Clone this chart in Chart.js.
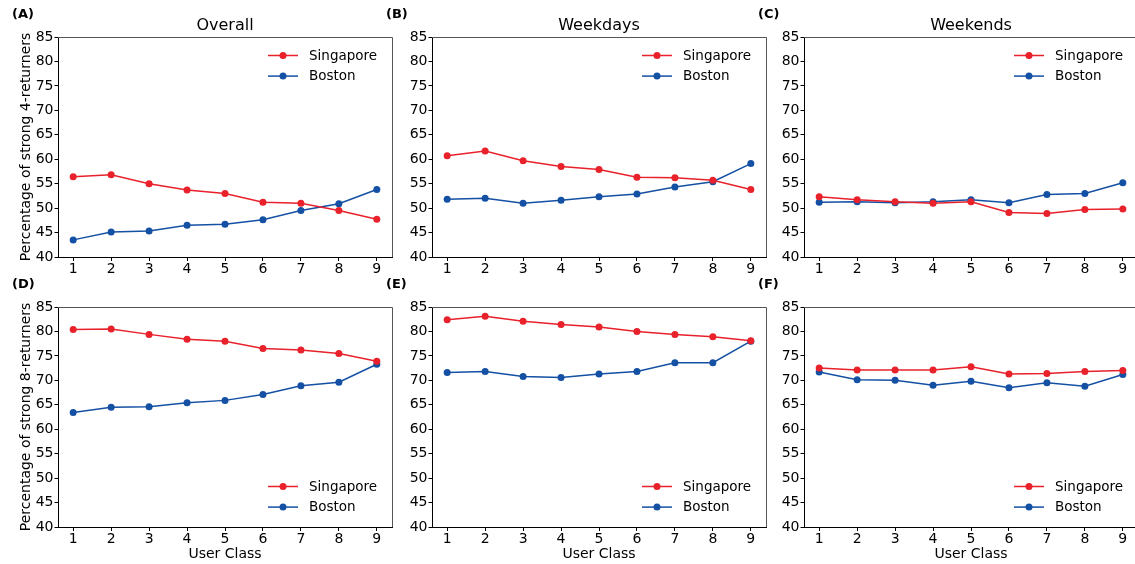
<!DOCTYPE html>
<html>
<head>
<meta charset="utf-8">
<script src="https://cdn.jsdelivr.net/npm/chart.js@4"></script>
<style>
html, body { margin:0; padding:0; background:#fff; overflow:hidden; }
body { width:1135px; height:564px; position:relative; }
canvas { position:absolute; }
</style>
</head>
<body>
<canvas id="pA" width="398" height="293" style="left:0px;top:0px"></canvas>
<canvas id="pB" width="398" height="293" style="left:374px;top:0px"></canvas>
<canvas id="pC" width="398" height="293" style="left:746px;top:0px"></canvas>
<canvas id="pD" width="398" height="293" style="left:0px;top:270px"></canvas>
<canvas id="pE" width="398" height="293" style="left:374px;top:270px"></canvas>
<canvas id="pF" width="398" height="293" style="left:746px;top:270px"></canvas>
<script>
// user classes on the x axis
const userClasses = [1,2,3,4,5,6,7,8,9];
const cities = ["Singapore", "Boston"];

// strong 4-returners (%)
const sgOverall4  = [56.4, 56.8, 55.0, 53.7, 53.0, 51.2, 51.0, 49.5, 47.7];
const bosOverall4 = [43.5, 45.1, 45.3, 46.5, 46.7, 47.6, 49.5, 50.9, 53.8];
const sgWeekdays4  = [60.7, 61.7, 59.7, 58.5, 57.9, 56.3, 56.2, 55.7, 53.8];
const bosWeekdays4 = [51.8, 52.0, 51.0, 51.6, 52.3, 52.9, 54.3, 55.4, 59.1];
const sgWeekends4  = [52.3, 51.7, 51.3, 51.0, 51.3, 49.1, 48.9, 49.7, 49.8];
const bosWeekends4 = [51.2, 51.3, 51.1, 51.3, 51.7, 51.1, 52.8, 53.0, 55.2];

// strong 8-returners (%)
const sgOverall8  = [80.4, 80.5, 79.4, 78.4, 78.0, 76.5, 76.2, 75.5, 73.9];
const bosOverall8 = [63.4, 64.5, 64.6, 65.4, 65.9, 67.1, 68.9, 69.6, 73.3];
const sgWeekdays8  = [82.4, 83.1, 82.1, 81.4, 80.9, 80.0, 79.4, 78.9, 78.1];
const bosWeekdays8 = [71.6, 71.8, 70.8, 70.6, 71.3, 71.8, 73.6, 73.6, 78.0];
const sgWeekends8  = [72.5, 72.1, 72.1, 72.1, 72.8, 71.3, 71.4, 71.8, 72.0];
const bosWeekends8 = [71.7, 70.1, 70.0, 69.0, 69.8, 68.5, 69.5, 68.8, 71.2];

const RED = "#e8212b";
const BLUE = "#1450a3";
const FONT = "'DejaVu Sans', sans-serif";

const panels = [
  { id:"pA", letter:"(A)", title:"Overall",  sg:sgOverall4,  bos:bosOverall4,  yTitle:"Percentage of strong 4-returners", xTitle:"", legend:"top" },
  { id:"pB", letter:"(B)", title:"Weekdays", sg:sgWeekdays4, bos:bosWeekdays4, yTitle:"", xTitle:"", legend:"top" },
  { id:"pC", letter:"(C)", title:"Weekends", sg:sgWeekends4, bos:bosWeekends4, yTitle:"", xTitle:"", legend:"top" },
  { id:"pD", letter:"(D)", title:"", sg:sgOverall8,  bos:bosOverall8,  yTitle:"Percentage of strong 8-returners", xTitle:"User Class", legend:"bottom" },
  { id:"pE", letter:"(E)", title:"", sg:sgWeekdays8, bos:bosWeekdays8, yTitle:"", xTitle:"User Class", legend:"bottom" },
  { id:"pF", letter:"(F)", title:"", sg:sgWeekends8, bos:bosWeekends8, yTitle:"", xTitle:"User Class", legend:"bottom" }
];

// frame, panel letter, panel title and legend drawn on top of the chart
const panelDecor = {
  id:"panelDecor",
  afterDraw(chart, args, opts){
    const ctx = chart.ctx;
    const a = chart.chartArea;
    ctx.save();

    ctx.strokeStyle = "#555";
    ctx.lineWidth = 1;
    ctx.beginPath();
    ctx.moveTo(a.left, Math.round(a.top) + 0.5);
    ctx.lineTo(Math.round(a.right) + 0.5, Math.round(a.top) + 0.5);
    ctx.lineTo(Math.round(a.right) + 0.5, a.bottom);
    ctx.stroke();

    ctx.fillStyle = "#000";
    ctx.textBaseline = "middle";
    ctx.textAlign = "left";
    ctx.font = "bold 13px " + FONT;
    ctx.fillText(opts.letter, 12, 15);

    if(opts.title){
      ctx.font = "16px " + FONT;
      ctx.textAlign = "center";
      ctx.fillText(opts.title, (a.left + a.right) / 2, 26);
    }

    ctx.font = "13.5px " + FONT;
    ctx.textAlign = "left";
    const y0 = opts.legend === "top" ? a.top + 18.5 : a.bottom - 40.5;
    chart.data.datasets.forEach((ds, i) => {
      const y = y0 + i * 20.6;
      ctx.strokeStyle = ds.borderColor;
      ctx.lineWidth = 1.5;
      ctx.beginPath();
      ctx.moveTo(a.right - 124, y);
      ctx.lineTo(a.right - 94, y);
      ctx.stroke();
      ctx.fillStyle = ds.borderColor;
      ctx.beginPath();
      ctx.arc(a.right - 109, y, 3.5, 0, Math.PI * 2);
      ctx.fill();
      ctx.fillStyle = "#000";
      ctx.fillText(ds.label, a.right - 83, y + 0.5);
    });

    ctx.restore();
  }
};

panels.forEach(p => {
  const makeSet = (label, vals, color) => ({
    label: label,
    data: userClasses.map((c, i) => ({ x:c, y:vals[i] })),
    borderColor: color,
    backgroundColor: color,
    borderWidth: 1.5,
    pointRadius: 3.5,
    pointHoverRadius: 3.5,
    pointBorderWidth: 0,
    tension: 0
  });

  new Chart(document.getElementById(p.id), {
    type: "line",
    data: {
      datasets: [
        makeSet(cities[0], p.sg, RED),
        makeSet(cities[1], p.bos, BLUE)
      ]
    },
    plugins: [panelDecor],
    options: {
      responsive: false,
      animation: false,
      events: [],
      devicePixelRatio: 1,
      layout: { autoPadding: false, padding: { top: 37, right: 6, left: 0, bottom: 0 } },
      plugins: {
        legend: { display: false },
        tooltip: { enabled: false },
        panelDecor: { letter: p.letter, title: p.title, legend: p.legend }
      },
      scales: {
        x: {
          type: "linear",
          min: 0.6,
          max: 9.4,
          afterBuildTicks: s => { s.ticks = userClasses.map(v => ({ value: v })); },
          afterFit: s => { s.height = 36; },
          border: { display: true, color: "#000", width: 1 },
          grid: { drawOnChartArea: false, drawTicks: true, tickLength: 4, color: "#000", lineWidth: 1 },
          ticks: { color: "#000", padding: 0, font: { family: FONT, size: 14 } },
          title: {
            display: p.xTitle !== "",
            text: p.xTitle,
            color: "#000",
            padding: { top: 0, bottom: 0.6 },
            font: { family: FONT, size: 14 }
          }
        },
        y: {
          min: 40,
          max: 85,
          afterFit: s => { s.width = 58; },
          border: { display: true, color: "#000", width: 1 },
          grid: { drawOnChartArea: false, drawTicks: true, tickLength: 3.5, color: "#000", lineWidth: 1 },
          ticks: { stepSize: 5, color: "#000", padding: 1, font: { family: FONT, size: 14 } },
          title: {
            display: p.yTitle !== "",
            text: p.yTitle,
            color: "#000",
            padding: { top: 18, bottom: 0 },
            font: { family: FONT, size: 14 }
          }
        }
      }
    }
  });
});
</script>
</body>
</html>
